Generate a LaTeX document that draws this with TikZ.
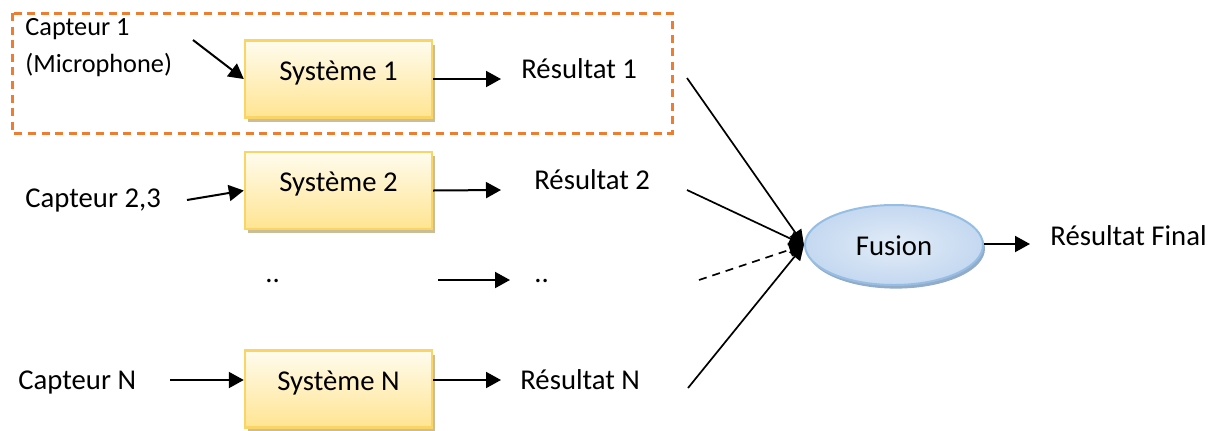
\documentclass[tikz,border=0pt]{standalone}
\usepackage{fontspec}
\setmainfont{Carlito}
\usetikzlibrary{arrows.meta,shadows,shapes.geometric}

\definecolor{dashorange}{RGB}{237,125,49}
\definecolor{boxborder}{RGB}{250,212,100}
\definecolor{boxtop}{RGB}{255,252,238}
\definecolor{boxbottom}{RGB}{255,228,145}
\definecolor{boxshadow}{RGB}{196,182,140}
\definecolor{fusionfill}{RGB}{196,216,240}
\definecolor{fusionlight}{RGB}{226,236,248}
\definecolor{fusionborder}{RGB}{150,190,228}
\definecolor{fusionshadow}{RGB}{118,150,188}

\begin{document}
\begin{tikzpicture}[x=0.5pt,y=-0.5pt,
  txt/.style={inner sep=0pt, anchor=base west, font=\fontsize{14.35}{17}\selectfont},
  smalltxt/.style={inner sep=0pt, anchor=base west, font=\fontsize{13.15}{16}\selectfont},
  sysbox/.style={draw=boxborder, line width=1.2pt, top color=boxtop, bottom color=boxbottom,
    minimum width=93.5pt, minimum height=38.5pt, inner sep=0pt,
    text height=10pt, text depth=9pt, font=\fontsize{14.35}{17}\selectfont,
    drop shadow={shadow xshift=1.5pt, shadow yshift=-2pt, fill=boxshadow, opacity=0.9}},
  fusionnode/.style={ellipse, draw=fusionborder, line width=1pt,
    inner color=fusionlight, outer color=fusionfill,
    minimum width=89pt, minimum height=40pt, inner sep=0pt,
    text height=10pt, text depth=0pt, font=\fontsize{14.35}{17}\selectfont,
    drop shadow={shadow xshift=1pt, shadow yshift=-1.8pt, fill=fusionshadow, opacity=0.8}},
  arr/.style={line width=1pt, -{Triangle[length=7.5pt, width=8pt]}},
  farr/.style={line width=0.85pt, -{Triangle[length=7.5pt, width=7pt]}}
]
\useasboundingbox (0,0) rectangle (1223,430);

% frame around the first acquisition chain
\draw[dashorange, line width=1.5pt, dash pattern=on 4pt off 2.8pt] (12,13) rectangle (672,133);

% processing blocks
\node[sysbox] (sys1) at (338.5,79) {Système 1};
\node[sysbox] (sys2) at (338.5,190.5) {Système 2};
\node[sysbox] (sysN) at (338.5,389) {Système N};

% fusion block
\node[fusionnode] (fusion) at (894,245) {Fusion};

% sensors
\node[smalltxt] (cap1) at (25,35) {Capteur 1};
\node[smalltxt] (micro) at (25,72) {(Microphone)};
\node[txt] (cap2) at (25,207) {Capteur 2,3};
\node[txt] (capN) at (18,389) {Capteur N};

% results
\node[txt] (res1) at (521,78) {Résultat 1};
\node[txt] (res2) at (534,189) {Résultat 2};
\node[txt] (resN) at (520,389) {Résultat N};
\node[txt] (dotsA) at (265,282) {..};
\node[txt] (dotsB) at (534,282) {..};
\node[txt] (resF) at (1050,245) {Résultat Final};

% connector end points
\coordinate (c1) at (193,40);
\coordinate (c2) at (187,200);
\coordinate (cN) at (170,380);
\coordinate (t1) at (501,79);
\coordinate (t2) at (501,190);
\coordinate (tN) at (501,380);
\coordinate (dA) at (438,280);
\coordinate (dB) at (510,280);
\coordinate (f1) at (687,78);
\coordinate (f2) at (687,190);
\coordinate (f3) at (699,280);
\coordinate (f4) at (688,388);
\coordinate (tF) at (1030,244);

% sensor inputs
\draw[arr] (c1) -- (sys1.west);
\draw[arr] (c2) -- (sys2.west);
\draw[arr] (cN) -- (cN -| sysN.west);

% system outputs
\draw[arr] (sys1.east) -- (t1);
\draw[arr] (sys2.east) -- (t2);
\draw[arr] (tN -| sysN.east) -- (tN);
\draw[arr] (dA) -- (dB);

% results into the fusion
\draw[farr] (f1) -- (fusion.west);
\draw[farr] (f2) -- (fusion.west);
\draw[farr, dash pattern=on 4pt off 3pt] (f3) -- (fusion.west);
\draw[farr] (f4) -- (fusion.west);

% final output
\draw[arr] (fusion.east |- tF) -- (tF);
\end{tikzpicture}
\end{document}
